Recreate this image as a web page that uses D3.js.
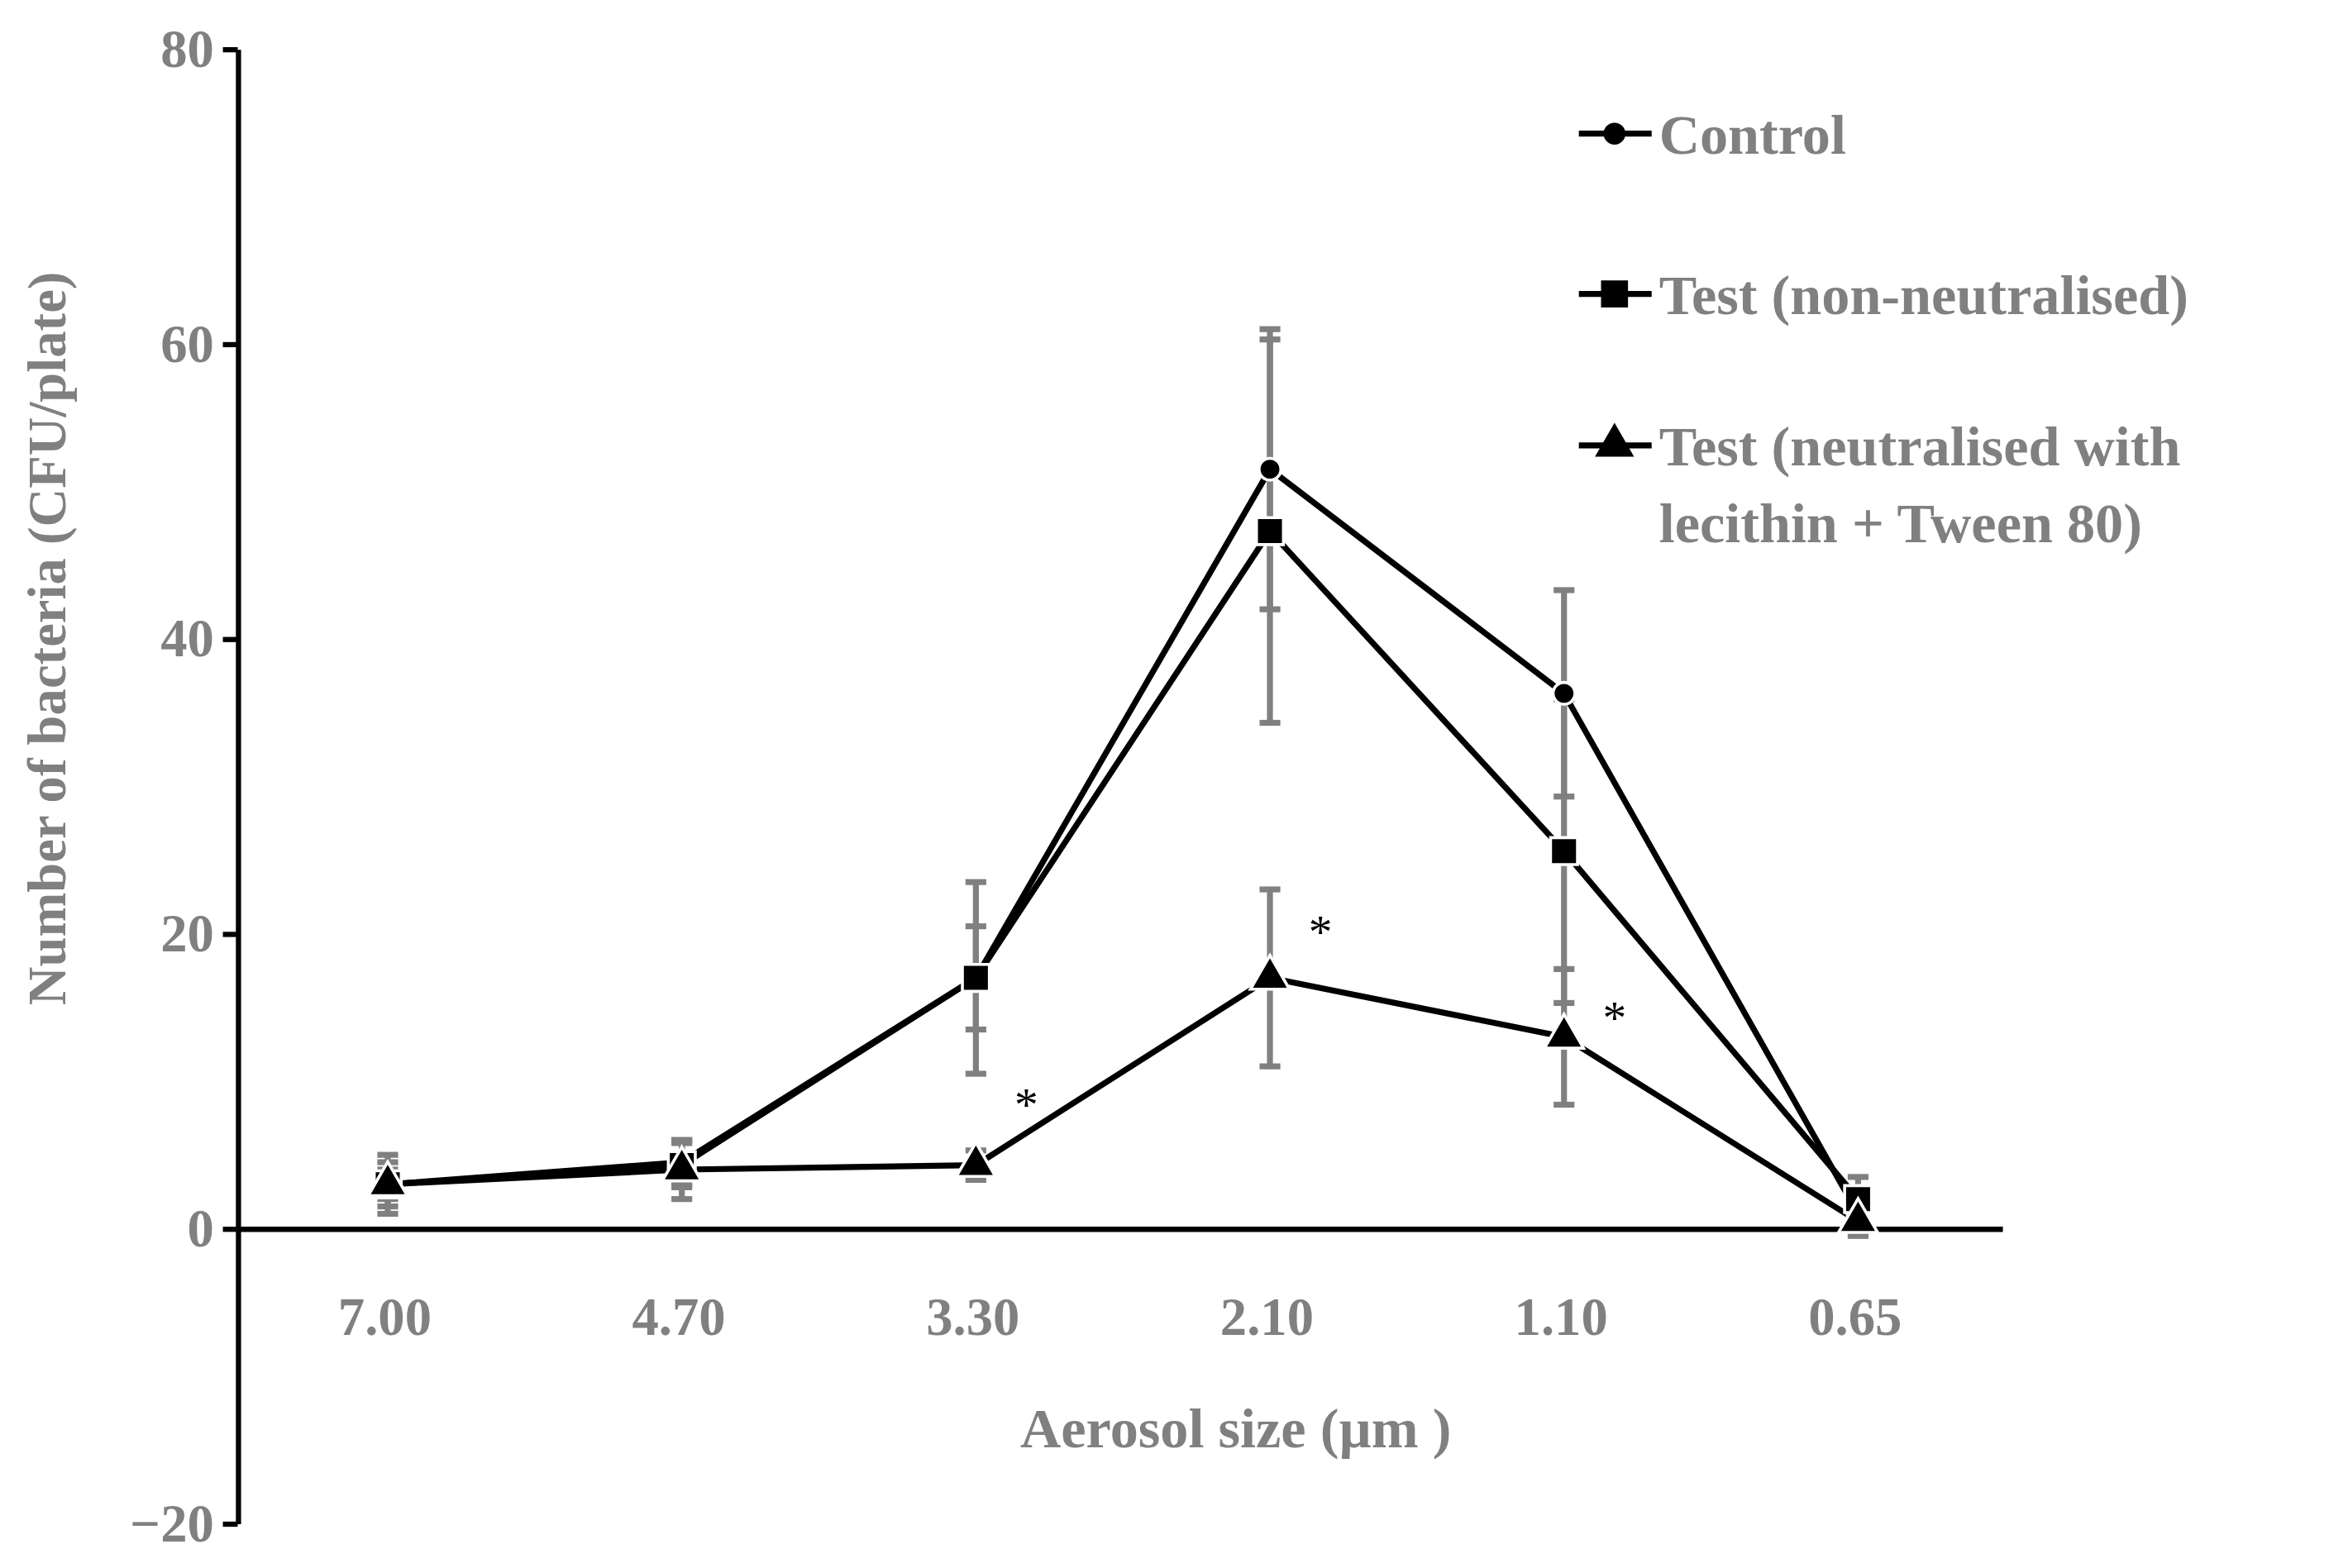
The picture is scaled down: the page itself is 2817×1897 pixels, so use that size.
<!DOCTYPE html>
<html><head><meta charset="utf-8">
<script src="https://cdn.jsdelivr.net/npm/d3@7/dist/d3.min.js"></script>
<style>body{margin:0;background:#fff}</style></head>
<body><div id="c"></div>
<script>
const categories = ["7.00","4.70","3.30","2.10","1.10","0.65"];
const controlVals = [3, 4.5, 17, 51.5, 36.3, 1];
const controlErr  = [2, 1.5, 6.5, 9.5, 7, 1.5];
const nonNeutVals = [3, 4.3, 17, 47.3, 25.6, 2];
const nonNeutErr  = [1.5, 1.5, 3.5, 13, 10.3, 1.5];
const neutVals    = [3, 4, 4.3, 17, 13, 0.5];
const neutErr     = [1, 2, 1, 6, 4.6, 0.5];
const yTicks = [-20, 0, 20, 40, 60, 80];
const asterisks = [2, 3, 4];
const legendLabels = [["Control"],["Test (non-neutralised)"],["Test (neutralised with","lecithin + Tween 80)"]];

const W=1568,H=1056;
const svg=d3.select("#c").append("svg").attr("width",2817).attr("height",1897).attr("viewBox",`0 0 ${W} ${H}`);
const font="'Liberation Serif','Times New Roman',serif", gray="#808080";
const x=d3.scaleBand().domain(categories).range([160,1348]);
const cx=d=>x(d)+x.bandwidth()/2+2;
const y=d3.scaleLinear().domain([-20,80]).range([1026,33]);

// y axis
const ya=svg.append("g").attr("transform","translate(160,0)").call(d3.axisLeft(y).tickValues(yTicks).tickSize(10).tickSizeOuter(0));
ya.select(".domain").attr("stroke","#000").attr("stroke-width",3.5);
ya.selectAll(".tick line").attr("stroke","#000").attr("stroke-width",3.5);
ya.selectAll(".tick text").attr("font-family",font).attr("font-weight","bold").attr("font-size",36).attr("fill",gray).attr("x",-16);
// x axis at 0
const xa=svg.append("g").attr("transform",`translate(0,${y(0)})`).call(d3.axisBottom(x).tickSize(0).tickSizeOuter(0));
xa.select(".domain").attr("stroke","#000").attr("stroke-width",3.5);
xa.selectAll(".tick text").attr("font-family",font).attr("font-weight","bold").attr("font-size",36).attr("fill",gray).attr("dy","1.9em");

svg.append("text").attr("x",832).attr("y",975).attr("text-anchor","middle").attr("font-family",font).attr("font-weight","bold").attr("font-size",38).attr("fill",gray).text("Aerosol size (µm )");
svg.append("text").attr("transform","translate(44,430) rotate(-90)").attr("text-anchor","middle").attr("font-family",font).attr("font-weight","bold").attr("font-size",36).attr("fill",gray).text("Number of bacteria (CFU/plate)");

const series=[{v:controlVals,e:controlErr,m:"circle"},{v:nonNeutVals,e:nonNeutErr,m:"square"},{v:neutVals,e:neutErr,m:"triangle"}];
// error bars
series.forEach(s=>{
  const g=svg.append("g").attr("stroke",gray).attr("stroke-width",4);
  categories.forEach((c,i)=>{
    const X=cx(c),t=y(s.v[i]+s.e[i]),b=y(s.v[i]-s.e[i]);
    g.append("line").attr("x1",X).attr("x2",X).attr("y1",t).attr("y2",b);
    g.append("line").attr("x1",X-7).attr("x2",X+7).attr("y1",t).attr("y2",t);
    g.append("line").attr("x1",X-7).attr("x2",X+7).attr("y1",b).attr("y2",b);
  });
});
const sym={circle:d3.symbol().type(d3.symbolCircle).size(170),square:d3.symbol().type(d3.symbolSquare).size(330),triangle:d3.symbol().type(d3.symbolTriangle).size(300)};
const line=d3.line().x((d,i)=>cx(categories[i])).y(d=>y(d));
series.forEach(s=>{
  svg.append("path").attr("d",line(s.v)).attr("fill","none").attr("stroke","#000").attr("stroke-width",4);
});
series.forEach(s=>{
  svg.append("g").selectAll("path").data(s.v).join("path")
   .attr("transform",(d,i)=>`translate(${cx(categories[i])},${y(d)})`)
   .attr("d",sym[s.m]).attr("fill","#000").attr("stroke","#fff").attr("stroke-width",2);
});
asterisks.forEach(i=>{
  svg.append("text").attr("x",cx(categories[i])+26).attr("y",y(neutVals[i]+(i==2?3:i==3?2:0))+(i==4?-2:0)).attr("font-family",font).attr("font-size",32).attr("fill","#000").text("*");
});
// legend
const ly=[90,198,300];
legendLabels.forEach((lab,i)=>{
  svg.append("line").attr("x1",1063).attr("x2",1112).attr("y1",ly[i]).attr("y2",ly[i]).attr("stroke","#000").attr("stroke-width",4);
  svg.append("path").attr("transform",`translate(1087,${ly[i]})`).attr("d",sym[series[i].m]).attr("fill","#000");
  lab.forEach((t,j)=>svg.append("text").attr("x",1117).attr("y",ly[i]+j*52).attr("dy","0.35em").attr("font-family",font).attr("font-weight","bold").attr("font-size",38).attr("fill",gray).text(t));
});
</script></body></html>
